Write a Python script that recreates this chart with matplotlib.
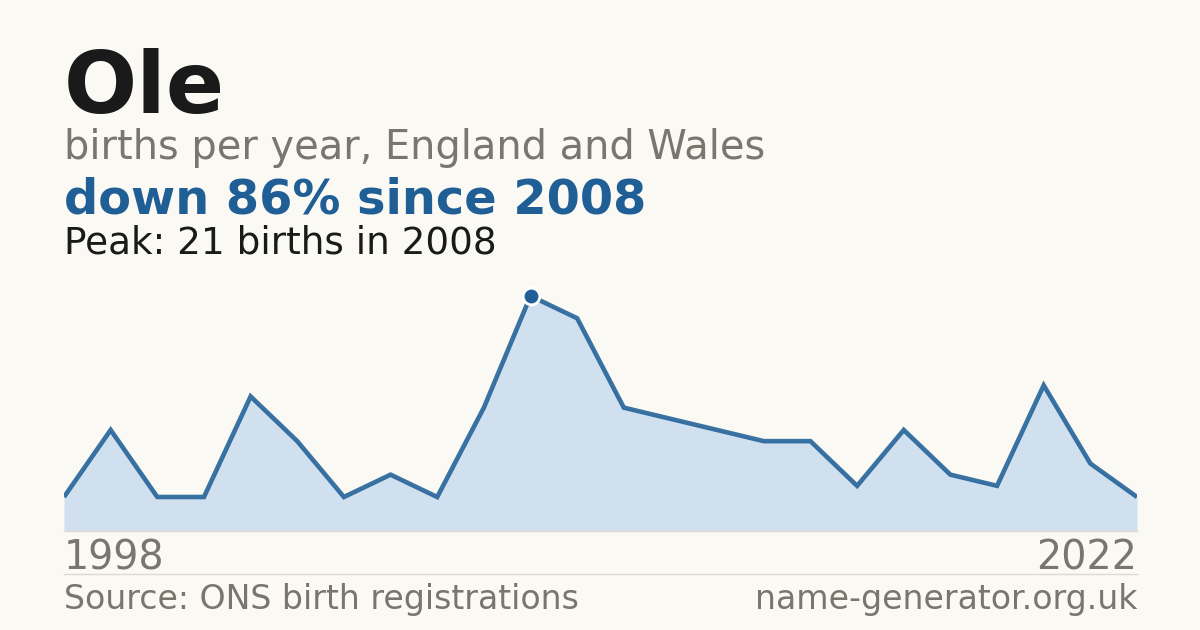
import matplotlib
matplotlib.use("Agg")
import matplotlib.pyplot as plt

# births per year for "Ole", first point 1998, last point 2022
first_year = 1998
last_year = 2022
births = [3, 9, 3, 3, 12, 8, 3, 5, 3, 11, 21, 19, 11, 10, 9, 8, 8, 4, 9, 5, 4, 13, 6, 3]
peak_index = 10

bg = "#faf9f4"
blue = "#1f5f96"
fill_blue = "#d0e0ef"
grey = "#7a756d"
rule = "#dcdad3"

fig = plt.figure(figsize=(12, 6.3), dpi=100, facecolor=bg)

left = 64 / 1200
right = 1137 / 1200
bottom = (630 - 530.5) / 630
ymax = max(births) * 1.1
height = ymax * 11.17 / 630

ax = fig.add_axes([left, bottom, right - left, height])
ax.set_facecolor(bg)
xs = list(range(len(births)))
ax.fill_between(xs, births, 0, color=fill_blue, linewidth=0)
ax.plot(xs, births, color=blue, linewidth=3.3, solid_capstyle="butt",
        solid_joinstyle="miter", alpha=0.88)
ax.plot(xs[peak_index], births[peak_index], "o", color=blue,
        markersize=12, markeredgecolor="white", markeredgewidth=2,
        zorder=5, clip_on=False)
ax.set_xlim(0, len(births) - 1)
ax.set_ylim(0, ymax)
ax.axis("off")

# rules
fig.add_artist(plt.Line2D([left, right], [bottom, bottom], color=rule, linewidth=1))
sep = (630 - 574) / 630
fig.add_artist(plt.Line2D([left, right], [sep, sep], color=rule, linewidth=1))

peak_year = 2008
change = round((births[-1] - births[peak_index]) / births[peak_index] * 100)

fig.text(left, (630 - 113) / 630, "Ole", fontsize=62, fontweight="bold",
         color="#1a1a1a", va="baseline")
fig.text(left, (630 - 159) / 630, "births per year, England and Wales",
         fontsize=28.7, color=grey, va="baseline")
fig.text(left, (630 - 214) / 630, f"down {abs(change)}% since {peak_year}",
         fontsize=34.5, fontweight="bold", color=blue, va="baseline")
fig.text(left, (630 - 253) / 630,
         f"Peak: {births[peak_index]} births in {peak_year}",
         fontsize=26.9, color="#1a1a1a", va="baseline")

fig.text(left, (630 - 570) / 630, str(first_year), fontsize=28.5,
         color=grey, va="baseline")
fig.text(right, (630 - 570) / 630, str(last_year), fontsize=28.5,
         color=grey, va="baseline", ha="right")
fig.text(left, (630 - 609) / 630, "Source: ONS birth registrations",
         fontsize=23.9, color=grey, va="baseline")
fig.text(right, (630 - 609) / 630, "name-generator.org.uk",
         fontsize=23.9, color=grey, va="baseline", ha="right")

fig.savefig("out.png", dpi=100, facecolor=bg)
